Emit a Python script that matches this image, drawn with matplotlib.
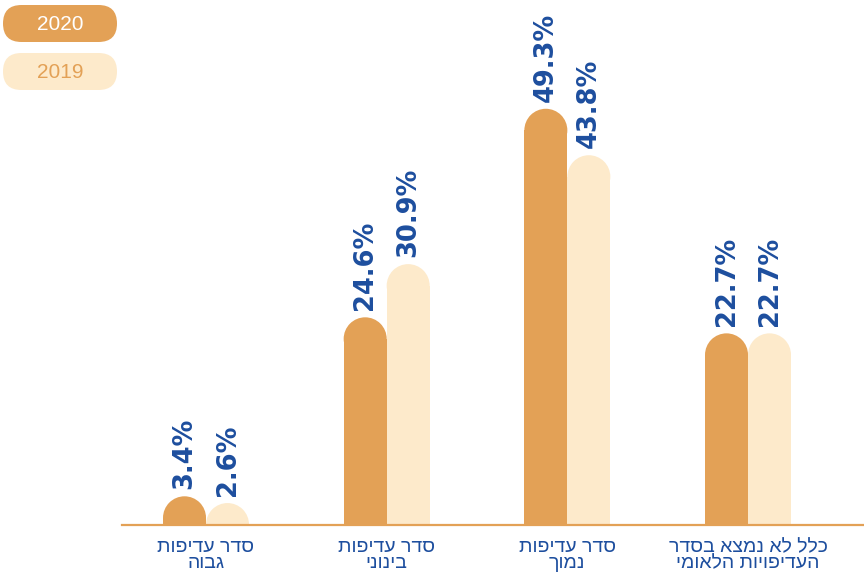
import matplotlib
matplotlib.use("Agg")
import matplotlib.pyplot as plt
from matplotlib.patches import Ellipse, FancyBboxPatch

# data
categories = ["סדר עדיפות\nגבוה", "סדר עדיפות\nבינוני", "סדר עדיפות\nנמוך",
              "כלל לא נמצא בסדר\nהעדיפויות הלאומי"]
values_2020 = [3.4, 24.6, 49.3, 22.7]
values_2019 = [2.6, 30.9, 43.8, 22.7]
series_names = ["2020", "2019"]

ORANGE = "#E3A156"
CREAM = "#FDEACB"
BLUE = "#1D4E9E"
FONT = ["Liberation Sans", "DejaVu Sans"]

W, H = 864, 577


def rtl(s):
    # matplotlib has no bidi support, so flip each Hebrew line for display
    return "\n".join(line[::-1] for line in s.split("\n"))


fig = plt.figure(figsize=(W / 100, H / 100), dpi=100)
ax_left, ax_bottom, ax_top = 122, 525, 10
ax = fig.add_axes([ax_left / W, (H - ax_bottom) / H, 1 - ax_left / W, (ax_bottom - ax_top) / H])

xlim = (-0.465, 3.642)
ylim = (0, 61.0)
ax.set_xlim(*xlim)
ax.set_ylim(*ylim)
for s in ["top", "right", "left"]:
    ax.spines[s].set_visible(False)
ax.spines["bottom"].set_color(ORANGE)
ax.spines["bottom"].set_linewidth(1.6)
ax.set_yticks([])
ax.set_xticks([])

bw = 0.238
px_x = (W - ax_left) / (xlim[1] - xlim[0])
px_y = (ax_bottom - ax_top) / (ylim[1] - ylim[0])
ry = (bw / 2) * px_x / px_y  # cap radius in y-units so the top looks round

for i in range(len(categories)):
    for vals, col, off in [(values_2020, ORANGE, -bw / 2), (values_2019, CREAM, bw / 2)]:
        v = vals[i]
        x = i + off
        body = max(v - ry, 0)
        ax.bar(x, body, width=bw, color=col, linewidth=0)
        ax.add_patch(Ellipse((x, body), bw, 2 * ry, color=col, linewidth=0))
        ax.annotate(f"{v}%", (x, body + ry), xytext=(0, 5), textcoords="offset points",
                    rotation=90, ha="center", va="bottom", color=BLUE,
                    fontsize=18.5, fontweight="bold", family="DejaVu Sans")
    ax.annotate(rtl(categories[i]), (i, 0), xytext=(0, -10), textcoords="offset points",
                ha="center", va="top", color=BLUE, fontsize=14, family=FONT,
                linespacing=0.95, annotation_clip=False)

# legend pills, drawn on a pixel-space overlay so the ends stay round
lg = fig.add_axes([0, 0, 1, 1], zorder=5)
lg.set_xlim(0, W)
lg.set_ylim(H, 0)
lg.axis("off")
for k, (name, fc, tc) in enumerate(zip(series_names, [ORANGE, CREAM], ["white", ORANGE])):
    y0 = 5 + k * 48
    lg.add_patch(FancyBboxPatch((3, y0), 114, 37, boxstyle="round,pad=0,rounding_size=18.5",
                                facecolor=fc, edgecolor="none"))
    lg.text(60, y0 + 19, name, ha="center", va="center", color=tc, fontsize=15, family=FONT)

fig.savefig("out.png", dpi=100)
